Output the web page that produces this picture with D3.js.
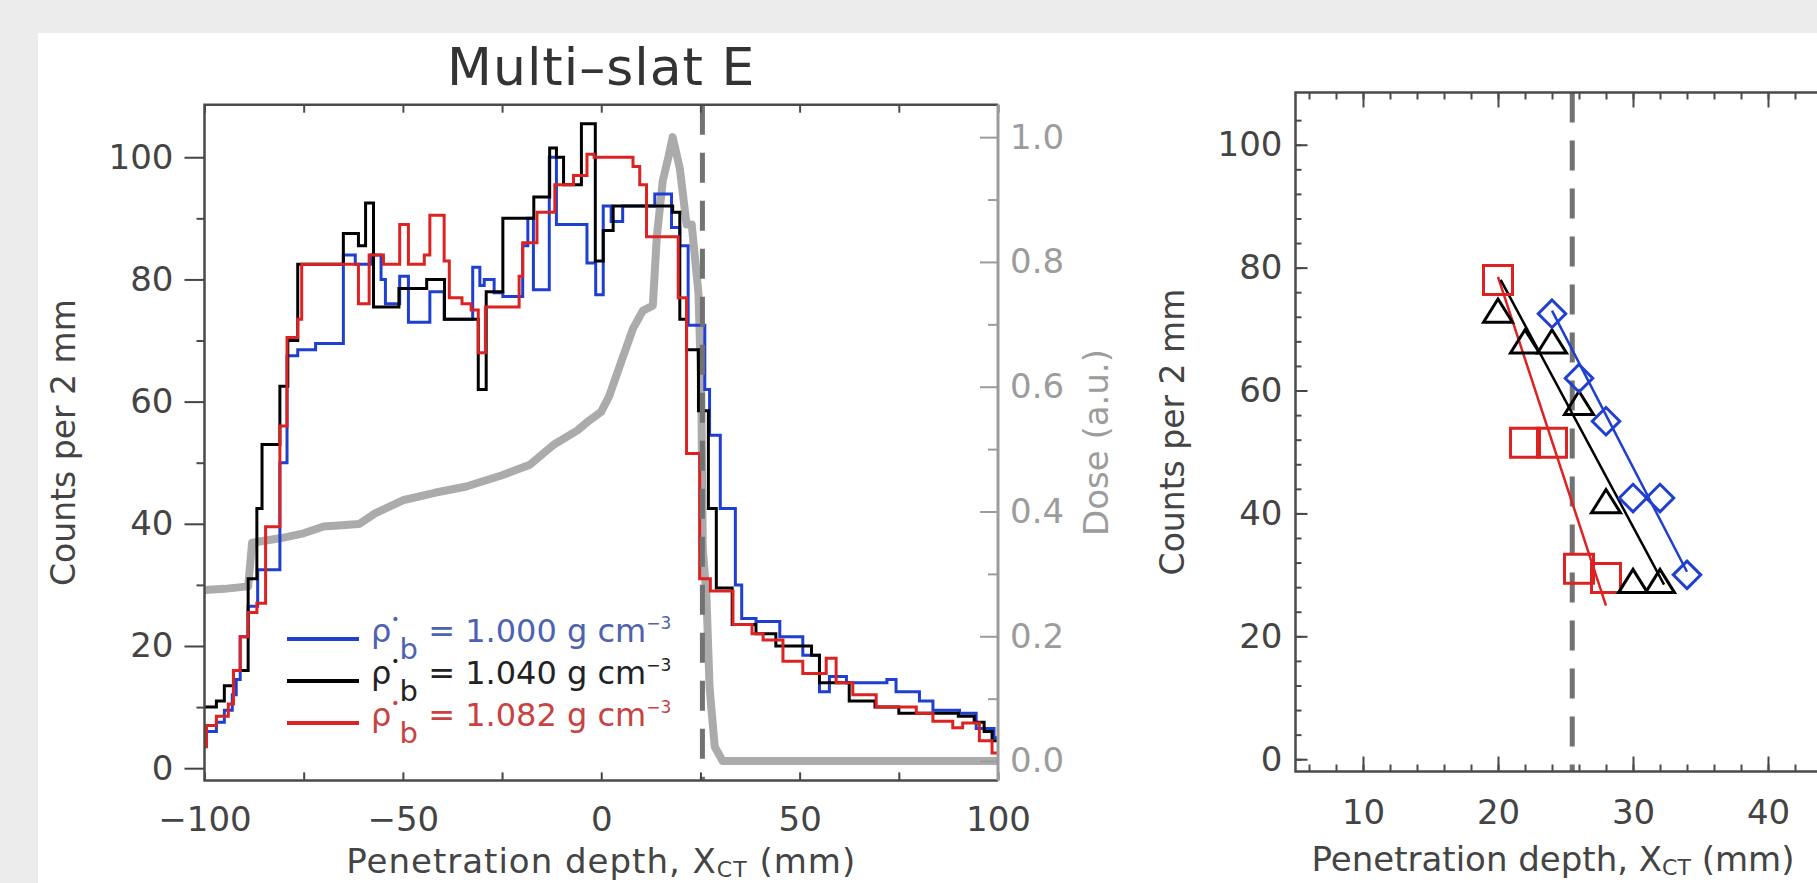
<!DOCTYPE html>
<html>
<head>
<meta charset="utf-8">
<script src="https://cdn.jsdelivr.net/npm/d3@7"></script>
<style>
  body { margin: 0; background: #edecec; }
  svg { display: block; font-family: "DejaVu Sans", sans-serif; }
</style>
</head>
<body>
<svg id="chart" width="1817" height="883"></svg>
<script>
// ---------- data ----------
// histogram steps: [start of step (mm), counts per 2 mm]
var blueSteps = [[-100,6],[-97,7.5],[-95,9.5],[-93,12],[-92,14.5],[-91,21.5],[-89,26.5],[-86.6,32.5],[-81,50],[-79.2,67.5],
  [-76.5,68.5],[-72,69.5],[-65,84],[-62,82.5],[-58,84],[-55.5,80],[-54.4,76],[-50.8,80.5],[-48.6,73],[-43.2,78],
  [-39.6,73.5],[-32.4,82],[-30.6,79],[-29.5,80],[-27,77.8],[-24.8,77.2],[-19.8,85.5],[-18.5,90],[-17.1,78.3],[-13.1,100],
  [-11.3,89],[-3.6,82.7],[-1.4,77.5],[0.5,92],[2.5,89.5],[5.4,92],[13.5,94],[17.7,88.5],[19.8,85.5],[21.9,72.5],
  [26.1,62],[27.3,54.5],[30,42.5],[33.8,30],[35.4,24.5],[39,24],[45,21.5],[50.8,18.5],[55,12.5],[57.5,15],
  [61.8,14],[72,14.5],[74.3,12.5],[80.2,11],[83.6,9.5],[90.3,9],[94.5,6.5],[99,5]];
var blackSteps = [[-100,10],[-97,11],[-95,13.5],[-92.7,16],[-89,31],[-86.8,42.5],[-85.5,53],[-81,62.5],[-79,70],[-76.5,82.5],
  [-65,87.5],[-61.2,85.5],[-59.4,92.5],[-57.4,75.5],[-51,78.5],[-44,80],[-39.5,73.5],[-31,62],[-29,78],[-24.8,90],
  [-17,93.5],[-13,101.5],[-11.3,100],[-9.5,95.5],[-5,105.5],[-1.5,83],[0.5,88],[3,92],[18,91],[19.8,73.5],
  [21.5,68.5],[24.5,58.5],[27,42.5],[29,29.5],[33,23.5],[39,22],[44,20],[53,18.5],[55,14],[62.5,11],
  [69,10],[75,9],[90,8.5],[94,7.5],[96.5,6],[98.5,4.5]];
var redSteps = [[-100,3.5],[-99.5,7],[-97,8.5],[-94,10.5],[-92.7,16],[-91,21.5],[-89,25.5],[-86.8,27],[-84.6,39.5],[-81,56],
  [-79.2,70.5],[-76.5,73.5],[-75.5,82.5],[-61.2,76],[-58.5,84],[-54.9,82.5],[-50.8,89],[-48.6,82.5],[-44.6,84],[-43.2,90.5],
  [-39.6,83],[-38.3,77],[-35.1,76],[-32.8,75],[-31,68],[-29.2,75.5],[-20.7,80.5],[-19.8,86],[-16.2,91],[-11.7,95.5],
  [-7,97],[-3.6,100.5],[-1.8,100],[8,98.5],[9.7,95.5],[11.4,87],[19.4,77],[21.5,51.5],[24.8,31],[27.5,29],
  [33.2,23.5],[38,22],[40.8,21],[45.8,17.5],[50.8,15.5],[56.7,18],[59.2,14],[63.4,12],[69.3,10],[79.4,9],
  [83.6,7.7],[88.6,6.6],[91.1,7.4],[95.3,4.5],[98.5,2.5]];
// dose profile: [depth (mm), dose (a.u.)]
var doseProfile = [[-100,0.274],[-95,0.276],[-89,0.28],[-88,0.35],[-81,0.357],[-75,0.365],[-70,0.376],[-61,0.38],[-57,0.397],
  [-50,0.418],[-42,0.43],[-34,0.44],[-25,0.458],[-18,0.475],[-12,0.507],[-6,0.53],[-3,0.546],[0,0.56],[2,0.585],
  [4.7,0.634],[8,0.693],[10.5,0.722],[13,0.73],[14,0.84],[15.5,0.93],[17,0.97],[18,1.0],[19.8,0.95],[21.5,0.86],
  [22.8,0.86],[24.5,0.75],[25.2,0.6],[25.6,0.34],[26.5,0.266],[27.3,0.118],[28.6,0.023],[30.6,0.0],[100,0.0]];
var depthTicks = [-100,-75,-50,-25,0,25,50,75,100];
var depthLabels = [-100,-50,0,50,100];
var countTicks = [0,20,40,60,80,100];
var countMinor = [10,30,50,70,90];
var doseTicks = [0,0.2,0.4,0.6,0.8,1.0];
var doseMinor = [0.1,0.3,0.5,0.7,0.9];
var braggDepth = 25.5;
var densities = ["1.000","1.040","1.082"];

// zoomed panel: [depth (mm), counts]
var redSquares = [[20,78],[22,51.5],[24,51.5],[26,31],[28,29.5]];
var blackTriangles = [[20,73],[22,68],[24,68],[26,58],[28,42],[30,29],[32,29]];
var blueDiamonds = [[24,72.5],[26,62],[28,55],[30,42.5],[32,42.5],[34,30]];
var redFit = [[20,78.5],[28,25]];
var blackFit = [[20.2,78],[32.3,28.4]];
var blueFit = [[24,73],[34,30.5]];
var zoomTicks = [10,20,30,40];
var zoomMinorX = d3.range(6, 45, 2);
var zoomMinorY = d3.range(0, 105, 4);

// ---------- setup ----------
var blue = "#1f3fd0", red = "#dd2222", black = "#000";
var axisCol = "#4a4a4a", textCol = "#444", doseCol = "#9c9c9c";

var svg = d3.select("#chart");
svg.append("rect").attr("width", 1817).attr("height", 883).attr("fill", "#edecec");
svg.append("rect").attr("x", 38).attr("y", 33).attr("width", 1800).attr("height", 860).attr("fill", "#fff");

function styleAxis(g, col) {
  g.select(".domain").remove();
  g.attr("font-size", 34).attr("font-family", "DejaVu Sans, sans-serif");
  g.selectAll(".tick line").attr("stroke", col).attr("stroke-width", 2);
  g.selectAll(".tick text").attr("fill", col);
}

// ---------- left panel ----------
var L = {left: 204.5, right: 998, top: 104.7, bottom: 780.4};
var xL = d3.scaleLinear().domain([-100, 100]).range([L.left, L.right]);
var yL = d3.scaleLinear().domain([-2, 108.6]).range([L.bottom, L.top]);
var yDose = d3.scaleLinear().domain([-0.031, 1.052]).range([L.bottom, L.top]);

svg.append("clipPath").attr("id", "clipL")
  .append("rect").attr("x", L.left).attr("y", L.top)
  .attr("width", L.right - L.left).attr("height", L.bottom - L.top);

var plotL = svg.append("g").attr("clip-path", "url(#clipL)");

plotL.append("path")
    .datum(doseProfile)
    .attr("fill", "none")
    .attr("stroke", "#ababab")
    .attr("stroke-width", 8)
    .attr("stroke-linejoin", "round")
    .attr("d", d3.line().x(function(d) { return xL(d[0]); }).y(function(d) { return yDose(d[1]); }));

var stepLine = d3.line()
    .curve(d3.curveStepAfter)
    .x(function(d) { return xL(d[0]); })
    .y(function(d) { return yL(d[1]); });

[{steps: blueSteps, color: blue}, {steps: blackSteps, color: black}, {steps: redSteps, color: red}]
  .forEach(function(s) {
    plotL.append("path")
        .datum(s.steps.concat([[100, s.steps[s.steps.length - 1][1]]]))
        .attr("fill", "none")
        .attr("stroke", s.color)
        .attr("stroke-width", 3)
        .attr("d", stepLine);
  });

svg.append("line")
    .attr("x1", xL(braggDepth)).attr("x2", xL(braggDepth))
    .attr("y1", L.top).attr("y2", L.bottom)
    .attr("stroke", "#727272").attr("stroke-width", 5)
    .attr("stroke-dasharray", "30,18");

// axes
svg.append("g").attr("transform", "translate(0," + L.bottom + ")")
    .call(d3.axisBottom(xL).tickValues(depthTicks).tickSize(-8).tickPadding(26)
      .tickFormat(function(d) { return depthLabels.indexOf(d) >= 0 ? d3.format("d")(d) : ""; }))
    .call(styleAxis, textCol);
svg.append("g").attr("transform", "translate(0," + L.top + ")")
    .call(d3.axisTop(xL).tickValues(depthTicks).tickSize(-8).tickFormat(""))
    .call(styleAxis, axisCol);
svg.append("g").attr("transform", "translate(" + L.left + ",0)")
    .call(d3.axisLeft(yL).tickValues(countTicks).tickSize(20).tickPadding(11).tickFormat(d3.format("d")))
    .call(styleAxis, textCol);
svg.append("g").attr("transform", "translate(" + L.left + ",0)")
    .call(d3.axisLeft(yL).tickValues(countMinor).tickSize(8).tickFormat(""))
    .call(styleAxis, axisCol);
svg.append("g").attr("transform", "translate(" + L.right + ",0)")
    .call(d3.axisRight(yDose).tickValues(doseTicks).tickSize(-18).tickPadding(12).tickFormat(d3.format(".1f")))
    .call(styleAxis, doseCol);
svg.append("g").attr("transform", "translate(" + L.right + ",0)")
    .call(d3.axisRight(yDose).tickValues(doseMinor).tickSize(-10).tickFormat(""))
    .call(styleAxis, doseCol);

// frame
svg.append("path")
    .attr("d", "M" + L.right + "," + L.top + "H" + L.left + "V" + L.bottom + "H" + L.right)
    .attr("fill", "none").attr("stroke", axisCol).attr("stroke-width", 2.5);
svg.append("line")
    .attr("x1", L.right).attr("x2", L.right).attr("y1", L.top).attr("y2", L.bottom)
    .attr("stroke", doseCol).attr("stroke-width", 3);

// titles
svg.append("text")
    .attr("x", (L.left + L.right) / 2).attr("y", 85)
    .attr("text-anchor", "middle").attr("font-size", 52).attr("fill", "#333")
    .attr("letter-spacing", 1)
    .text("Multi–slat E");

svg.append("text")
    .attr("transform", "translate(63," + ((L.top + L.bottom) / 2) + ") rotate(-90)")
    .attr("text-anchor", "middle").attr("dominant-baseline", "central")
    .attr("font-size", 33).attr("fill", textCol)
    .text("Counts per 2 mm");

svg.append("text")
    .attr("transform", "translate(1096," + ((L.top + L.bottom) / 2) + ") rotate(-90)")
    .attr("text-anchor", "middle").attr("dominant-baseline", "central")
    .attr("font-size", 34).attr("fill", doseCol)
    .text("Dose (a.u.)");

function depthTitle(cx, y, spacing) {
  var t = svg.append("text")
      .attr("x", cx).attr("y", y)
      .attr("text-anchor", "middle").attr("font-size", 34).attr("fill", textCol)
      .attr("letter-spacing", spacing);
  t.append("tspan").text("Penetration depth, X");
  t.append("tspan").attr("font-size", 22).attr("dy", 4).text("CT");
  t.append("tspan").attr("dy", -4).text(" (mm)");
}
depthTitle((L.left + L.right) / 2, 873, 1);

// legend
var legColors = [blue, black, red];
var legText = ["#4d62b0", "#222", "#c8423f"];
densities.forEach(function(d, i) {
  var yRow = 639 + i * 42;
  svg.append("line")
      .attr("x1", 287).attr("x2", 359).attr("y1", yRow).attr("y2", yRow)
      .attr("stroke", legColors[i]).attr("stroke-width", 4);
  var t = svg.append("text")
      .attr("x", 371).attr("y", yRow + 3)
      .attr("font-size", 32).attr("fill", legText[i]);
  t.append("tspan").text("ρ");
  t.append("tspan").attr("font-size", 14).attr("dy", -18).text("•");
  t.append("tspan").attr("font-size", 29).attr("dy", 35).text("b");
  t.append("tspan").attr("dy", -17).text(" = " + d + " g cm");
  t.append("tspan").attr("font-size", 17).attr("dy", -13).text("−3");
});

// ---------- right (zoomed) panel ----------
var R = {left: 1295.5, right: 1835.5, top: 92.5, bottom: 771.5};
var xR = d3.scaleLinear().domain([5, 45]).range([R.left, R.right]);
var yR = d3.scaleLinear().domain([-2, 108.5]).range([R.bottom, R.top]);

svg.append("line")
    .attr("x1", xR(braggDepth)).attr("x2", xR(braggDepth))
    .attr("y1", R.top).attr("y2", R.bottom)
    .attr("stroke", "#727272").attr("stroke-width", 5)
    .attr("stroke-dasharray", "30,18");

svg.append("g").attr("transform", "translate(0," + R.bottom + ")")
    .call(d3.axisBottom(xR).tickValues(zoomTicks).tickSize(-15).tickPadding(28).tickFormat(d3.format("d")))
    .call(styleAxis, textCol);
svg.append("g").attr("transform", "translate(0," + R.bottom + ")")
    .call(d3.axisBottom(xR).tickValues(zoomMinorX).tickSize(-7).tickFormat(""))
    .call(styleAxis, axisCol);
svg.append("g").attr("transform", "translate(0," + R.top + ")")
    .call(d3.axisTop(xR).tickValues(zoomTicks).tickSize(-15).tickFormat(""))
    .call(styleAxis, axisCol);
svg.append("g").attr("transform", "translate(0," + R.top + ")")
    .call(d3.axisTop(xR).tickValues(zoomMinorX).tickSize(-7).tickFormat(""))
    .call(styleAxis, axisCol);
svg.append("g").attr("transform", "translate(" + R.left + ",0)")
    .call(d3.axisLeft(yR).tickValues(countTicks).tickSize(-12).tickPadding(13).tickFormat(d3.format("d")))
    .call(styleAxis, textCol);
svg.append("g").attr("transform", "translate(" + R.left + ",0)")
    .call(d3.axisLeft(yR).tickValues(zoomMinorY).tickSize(-6).tickFormat(""))
    .call(styleAxis, axisCol);

svg.append("rect")
    .attr("x", R.left).attr("y", R.top)
    .attr("width", R.right - R.left).attr("height", R.bottom - R.top)
    .attr("fill", "none").attr("stroke", axisCol).attr("stroke-width", 2.5);

var fitLine = d3.line().x(function(d) { return xR(d[0]); }).y(function(d) { return yR(d[1]); });
[{d: redFit, c: red}, {d: blackFit, c: black}, {d: blueFit, c: blue}].forEach(function(f) {
  svg.append("path").datum(f.d)
      .attr("fill", "none").attr("stroke", f.c).attr("stroke-width", 2.5)
      .attr("d", fitLine);
});

var squareSym = { draw: function(ctx, size) {
  var r = Math.sqrt(size) / 2;
  ctx.moveTo(-r, -r); ctx.lineTo(r, -r); ctx.lineTo(r, r); ctx.lineTo(-r, r); ctx.closePath();
} };
var triangleSym = { draw: function(ctx, size) {
  var r = Math.sqrt(size) / 2;
  ctx.moveTo(0, -0.8 * r); ctx.lineTo(r, 0.8 * r); ctx.lineTo(-r, 0.8 * r); ctx.closePath();
} };
var diamondSym = { draw: function(ctx, size) {
  var r = Math.sqrt(size) / 2;
  ctx.moveTo(0, -r); ctx.lineTo(r, 0); ctx.lineTo(0, r); ctx.lineTo(-r, 0); ctx.closePath();
} };

[{d: redSquares, c: red, t: squareSym, s: 841},
 {d: blackTriangles, c: black, t: triangleSym, s: 841},
 {d: blueDiamonds, c: blue, t: diamondSym, s: 756}].forEach(function(m) {
  svg.selectAll(null)
      .data(m.d)
      .enter().append("path")
      .attr("transform", function(d) { return "translate(" + xR(d[0]) + "," + yR(d[1]) + ")"; })
      .attr("d", d3.symbol().type(m.t).size(m.s))
      .attr("fill", "none")
      .attr("stroke", m.c)
      .attr("stroke-width", 3);
});

svg.append("text")
    .attr("transform", "translate(1172," + ((R.top + R.bottom) / 2) + ") rotate(-90)")
    .attr("text-anchor", "middle").attr("dominant-baseline", "central")
    .attr("font-size", 33).attr("fill", textCol)
    .text("Counts per 2 mm");
depthTitle(1553, 871, 0);
</script>
</body>
</html>
